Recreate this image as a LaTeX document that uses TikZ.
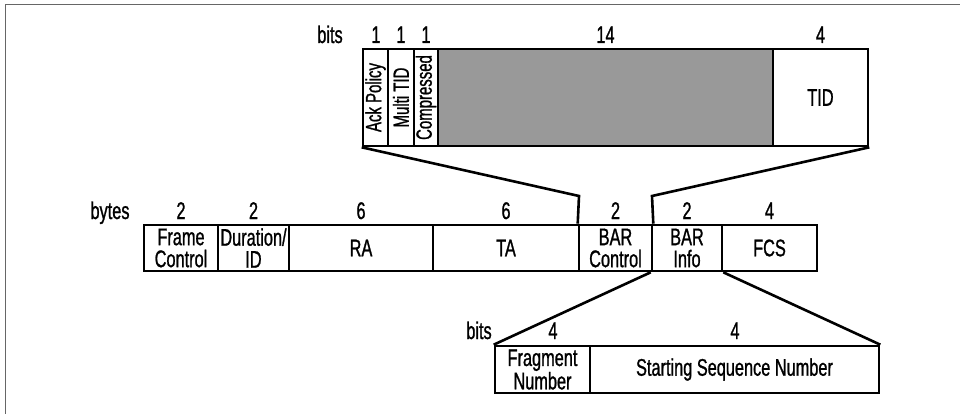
\documentclass[tikz,border=0pt]{standalone}
\usepackage{fontspec}
\setmainfont[FakeStretch=0.68,FakeBold=1]{Liberation Sans}
\begin{document}
\begin{tikzpicture}[x=1pt,y=-1pt,
  fld/.style={draw, line width=2.6pt, inner sep=0pt, align=center,
    font=\fontsize{24}{22}\selectfont},
  gfld/.style={fld, fill=black!40},
  vtxt/.style={rotate=90, inner sep=0pt, font=\fontsize{22}{20}\selectfont},
  lbl/.style={anchor=base, inner sep=0pt, font=\fontsize{24}{22}\selectfont},
  conn/.style={line width=2.6pt, line join=miter}]
\useasboundingbox (0,0) rectangle (960,414);
\draw[black!60, line width=0.8pt] (5,414) -- (5,4) -- (960,4);
% top fields (bits)
\node[fld, minimum width=25, minimum height=97] (tAck) at (375.5,97.5) {};
\node[fld, minimum width=26, minimum height=97] (tMulti) at (401,97.5) {};
\node[fld, minimum width=24, minimum height=97] (tComp) at (426,97.5) {};
\node[gfld, minimum width=335, minimum height=97] (tRes) at (605.5,97.5) {};
\node[fld, minimum width=95, minimum height=97] (tTID) at (820.5,97.5) {TID};
\node[vtxt] (vAck) at (tAck) {Ack Policy};
\node[vtxt] (vMulti) at (tMulti) {Multi TID};
\node[vtxt] (vComp) at (tComp) {Compressed};
\node[lbl] (lbits1) at (330,43) {bits};
\node[lbl] (l1a) at (376,43) {1};
\node[lbl] (l1b) at (401,43) {1};
\node[lbl] (l1c) at (426,43) {1};
\node[lbl] (l14) at (605.5,43) {14};
\node[lbl] (l4t) at (820.5,43) {4};
% main frame (bytes)
\node[fld, minimum width=74, minimum height=46] (mFC) at (181,248) {Frame\\Control};
\node[fld, minimum width=71, minimum height=46] (mDur) at (253.5,248) {Duration/\\ID};
\node[fld, minimum width=144, minimum height=46] (mRA) at (361,248) {RA};
\node[fld, minimum width=146, minimum height=46] (mTA) at (506,248) {TA};
\node[fld, minimum width=73, minimum height=46] (mBC) at (615.5,248) {BAR\\Control};
\node[fld, minimum width=70, minimum height=46] (mBI) at (687,248) {BAR\\Info};
\node[fld, minimum width=95, minimum height=46] (mFCS) at (769.5,248) {FCS};
\node[lbl] (lbytes) at (110,219) {bytes};
\node[lbl] (lm1) at (181,219) {2};
\node[lbl] (lm2) at (253.5,219) {2};
\node[lbl] (lm3) at (361,219) {6};
\node[lbl] (lm4) at (506,219) {6};
\node[lbl] (lm5) at (615.5,219) {2};
\node[lbl] (lm6) at (687,219) {2};
\node[lbl] (lm7) at (769.5,219) {4};
% bottom fields (bits)
\node[fld, minimum width=95, minimum height=47] (bFN) at (542.5,369.5) {Fragment\\Number};
\node[fld, minimum width=289, minimum height=47] (bSSN) at (734.5,369.5) {Starting Sequence Number};
\node[lbl] (lbits2) at (479,339) {bits};
\node[lbl] (lb1) at (553,339) {4};
\node[lbl] (lb2) at (735,339) {4};
% connectors
\coordinate (k1) at (579,196);
\coordinate (k2) at (652,196);
\draw[conn] (tAck.south west) -- (k1) -- (mBC.north west);
\draw[conn] (tTID.south east) -- (k2) -- (mBC.north east);
\draw[conn] (mBI.south west) -- (bFN.north west);
\draw[conn] (mBI.south east) -- (bSSN.north east);
\end{tikzpicture}
\end{document}
